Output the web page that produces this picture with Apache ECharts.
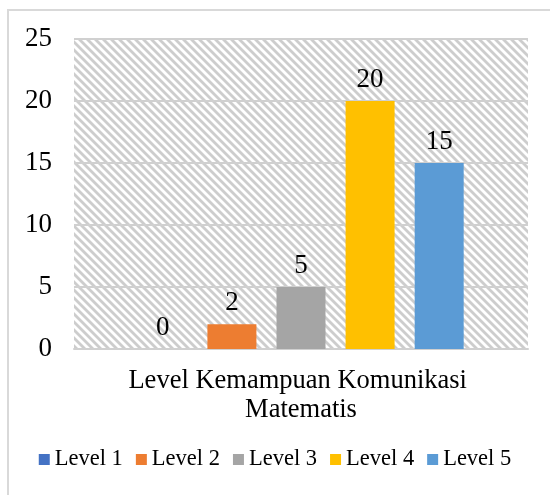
<!DOCTYPE html>
<html>
<head>
<meta charset="utf-8">
<script src="https://cdn.jsdelivr.net/npm/echarts@6/dist/echarts.min.js"></script>
<style>
html,body{margin:0;padding:0;background:#fff;}
#chart{width:550px;height:495px;}
</style>
</head>
<body>
<div id="chart"></div>
<script>
const categories = ['Level Kemampuan Komunikasi Matematis'];
const seriesNames = ['Level 1', 'Level 2', 'Level 3', 'Level 4', 'Level 5'];
const level1 = [0];
const level2 = [2];
const level3 = [5];
const level4 = [20];
const level5 = [15];
const seriesValues = [level1, level2, level3, level4, level5];
const colors = ['#4472C4', '#ED7D31', '#A5A5A5', '#FFC000', '#5B9BD5'];

const tile = document.createElement('canvas');
tile.width = 8; tile.height = 8;
const tctx = tile.getContext('2d');
tctx.fillStyle = '#ffffff';
tctx.fillRect(0, 0, 8, 8);
tctx.strokeStyle = '#cdcdcd';
tctx.lineWidth = 2.8;
for (let k = -1; k <= 1; k++) {
  tctx.beginPath();
  tctx.moveTo(k * 8 - 2, -2);
  tctx.lineTo(k * 8 + 10, 10);
  tctx.stroke();
}

const font = '"Liberation Serif", "Times New Roman", serif';
const chart = echarts.init(document.getElementById('chart'), null, {renderer: 'canvas'});
chart.setOption({
  animation: false,
  backgroundColor: '#ffffff',
  textStyle: {fontFamily: font, color: '#000'},
  graphic: [{
    type: 'rect', z: -10, silent: true,
    shape: {x: 8, y: 10, width: 600, height: 600},
    style: {fill: 'none', stroke: '#d9d9d9', lineWidth: 2}
  }],
  grid: {
    left: 74, right: 22, top: 39, bottom: 146,
    show: true,
    backgroundColor: {image: tile, repeat: 'repeat'},
    borderWidth: 0
  },
  legend: {
    top: 448, left: 'center', padding: 0,
    itemWidth: 11, itemHeight: 11, itemGap: 13,
    icon: 'rect',
    textStyle: {fontFamily: font, fontSize: 22.5, color: '#000'},
    data: seriesNames
  },
  xAxis: {
    type: 'category',
    data: categories,
    axisLine: {show: true, lineStyle: {color: '#d0d0d0', width: 2}},
    axisTick: {show: false},
    axisLabel: {
      fontFamily: font, fontSize: 26.5, color: '#000', margin: 18,
      width: 380, overflow: 'break', lineHeight: 29, align: 'center'
    }
  },
  yAxis: {
    type: 'value', min: 0, max: 25, interval: 5,
    axisLine: {show: false}, axisTick: {show: false},
    splitLine: {lineStyle: {color: '#d0d0d0', width: 2}},
    axisLabel: {fontFamily: font, fontSize: 27, color: '#000', margin: 22}
  },
  series: seriesNames.map((name, i) => ({
    name: name,
    type: 'bar',
    data: seriesValues[i],
    barWidth: 49,
    barGap: '41%',
    itemStyle: {color: colors[i]},
    label: {show: true, position: 'top', distance: 8, fontFamily: font, fontSize: 27, color: '#000'}
  }))
});
</script>
</body>
</html>
